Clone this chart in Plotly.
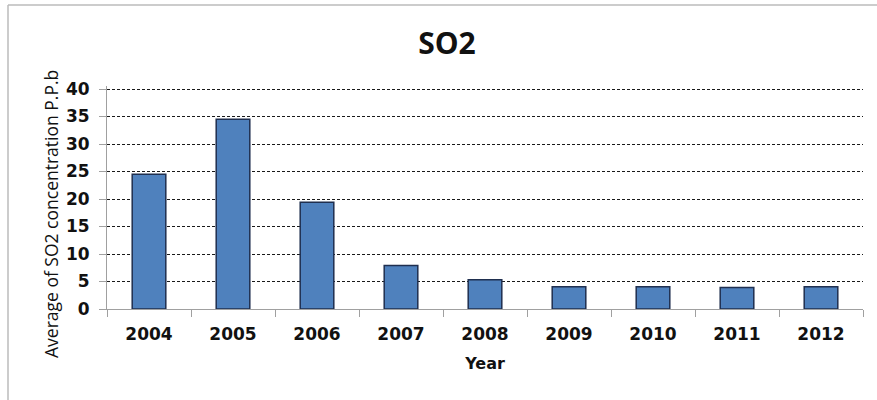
import plotly.graph_objects as go

years = ["2004", "2005", "2006", "2007", "2008", "2009", "2010", "2011", "2012"]
so2 = [24.5, 34.5, 19.4, 7.9, 5.3, 4.05, 4.05, 3.9, 4.05]
y_ticks = [0, 5, 10, 15, 20, 25, 30, 35, 40]

W, H = 877, 400
L, R, T, B = 107, 14, 86, 91

fig = go.Figure(go.Bar(
    x=years, y=so2,
    marker=dict(color="#4F81BD", line=dict(color="#1F2F4F", width=1.5)),
    width=0.4,
))

fig.update_layout(
    width=W, height=H,
    margin=dict(l=L, r=R, t=T, b=B),
    paper_bgcolor="white", plot_bgcolor="white",
    showlegend=False,
    title=dict(text="<b>SO2</b>", x=447 / W, xanchor="center", xref="container",
               y=1 - 43 / H, yanchor="middle", yref="container",
               font=dict(family="Open Sans", size=30, color="#111111")),
    xaxis=dict(
        type="category", tickson="boundaries", ticks="outside", ticklen=7,
        tickcolor="#A0A0A0", showline=True, linecolor="#A0A0A0", linewidth=1,
        showgrid=False, ticklabelstandoff=10,
        tickfont=dict(family="DejaVu Sans", size=17, color="#111111", weight="bold"),
        title=dict(text="<b>Year</b>", font=dict(family="DejaVu Sans", size=16, color="#111111"),
                   standoff=14),
    ),
    yaxis=dict(
        range=[0, 40.55], tickvals=y_ticks, ticks="outside", ticklen=7,
        tickcolor="#A0A0A0", showline=True, linecolor="#A0A0A0", linewidth=1,
        showgrid=True, gridcolor="#1A1A1A", griddash="3px,2px", gridwidth=1,
        zeroline=False, ticklabelstandoff=6,
        tickfont=dict(family="DejaVu Sans", size=17, color="#111111", weight="bold"),
    ),
    shapes=[
        dict(type="line", xref="paper", yref="paper",
             x0=(8 - L) / (W - L - R), x1=(W - L) / (W - L - R),
             y0=(H - B - 5) / (H - T - B), y1=(H - B - 5) / (H - T - B),
             line=dict(color="#BBBBBB", width=1.5)),
        dict(type="line", xref="paper", yref="paper",
             x0=(8 - L) / (W - L - R), x1=(8 - L) / (W - L - R),
             y0=(H - B - 5) / (H - T - B), y1=(H - B - H) / (H - T - B),
             line=dict(color="#BBBBBB", width=1.5)),
    ],
    annotations=[
        dict(text="Average of SO2 concentration P.P.b", textangle=-90,
             xref="paper", yref="paper",
             x=(51 - L) / (W - L - R), y=(H - B - 214) / (H - T - B),
             xanchor="center", yanchor="middle", showarrow=False,
             font=dict(family="Open Sans", size=17.5, color="#111111")),
    ],
)

fig.write_html("out.html")
